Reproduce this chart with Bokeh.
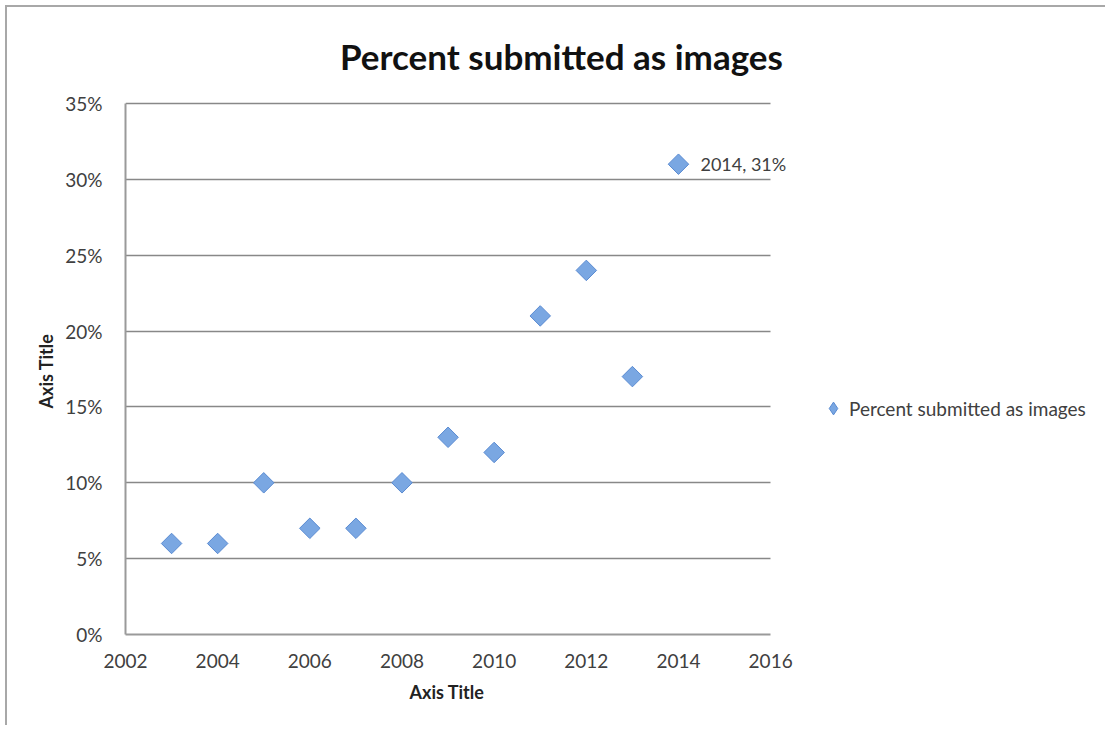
from bokeh.plotting import figure
from bokeh.models import (Label, Legend, LegendItem, SingleIntervalTicker,
                          PrintfTickFormatter, Range1d, ColumnDataSource, Title)
from bokeh.embed import file_html
from bokeh.resources import INLINE
import math

# ---- data ----
years = [2003, 2004, 2005, 2006, 2007, 2008, 2009, 2010, 2011, 2012, 2013, 2014]
percent_images = [6, 6, 10, 7, 7, 10, 13, 12, 21, 24, 17, 31]
series_name = "Percent submitted as images"
chart_title = "Percent submitted as images"
x_axis_title = "Axis Title"
y_axis_title = "Axis Title"
label_year = 2014
label_value = 31
x_axis_span = (2002, 2016)
y_axis_span = (0, 35)

FONT = "Lato"
TXT = "#404040"
FILL = "#7aa7e2"
EDGE = "#5a8bd2"

# frame is stretched over the whole chart area; axes and grid are bounded
p = figure(width=1100, height=720, output_backend="svg", toolbar_location=None,
           x_range=Range1d(2002, 2023.31), y_range=Range1d(0, 41.33),
           min_border_left=118, min_border_right=0,
           min_border_top=0, min_border_bottom=93)
p.styles = {"margin-left": "5px", "margin-top": "5px",
            "border-left": "2px solid #a8a8a8", "border-top": "2px solid #a8a8a8"}
p.outline_line_color = None
p.background_fill_color = "white"
p.border_fill_color = "white"

p.xaxis.bounds = x_axis_span
p.yaxis.bounds = y_axis_span

# grid
p.xgrid.grid_line_color = None
p.ygrid.grid_line_color = "#888888"
p.ygrid.grid_line_width = 1.3
p.ygrid.ticker = SingleIntervalTicker(interval=5)
p.ygrid.bounds = y_axis_span
p.ygrid.cross_bounds = x_axis_span

# axes
p.xaxis.ticker = SingleIntervalTicker(interval=2)
p.yaxis.ticker = SingleIntervalTicker(interval=5)
p.yaxis.formatter = PrintfTickFormatter(format="%d%%")
for ax in (p.xaxis[0], p.yaxis[0]):
    ax.axis_line_color = "#9a9a9a"
    ax.axis_line_width = 2
    ax.major_tick_line_color = None
    ax.minor_tick_line_color = None
    ax.major_label_text_font = FONT
    ax.major_label_text_font_size = "19px"
    ax.major_label_text_color = TXT
p.xaxis.major_label_standoff = 13
p.yaxis.major_label_standoff = 17

# axis titles (placed as titles so they centre on the bounded axes)
p.add_layout(Title(text=y_axis_title, align="left", offset=226, standoff=12,
                   text_font=FONT, text_font_size="18px", text_font_style="bold",
                   text_color="#222222"), "left")
p.add_layout(Title(text=x_axis_title, align="left", offset=284, standoff=17,
                   text_font=FONT, text_font_size="18px", text_font_style="bold",
                   text_color="#222222"), "below")

# legend swatch renderer: a diamond hidden underneath the last point,
# used only so the legend shows a diamond symbol
swatch = p.scatter(x=years[-1:], y=percent_images[-1:], marker="diamond", size=14,
                   fill_color=FILL, line_color=EDGE, line_width=1)

src = ColumnDataSource(dict(x=years, y=percent_images))
r = p.scatter("x", "y", source=src, marker="square", size=14.5, angle=math.pi / 4,
              fill_color=FILL, line_color=EDGE, line_width=1)

# data label
p.add_layout(Label(x=label_year, y=label_value, text=f"{label_year}, {label_value}%",
                   x_offset=22, text_baseline="middle", text_font=FONT,
                   text_font_size="18px", text_color=TXT))

# chart title
p.add_layout(Label(x=2011.46, y=38.16, text=chart_title, text_align="center",
                   text_baseline="middle", text_font=FONT, text_font_size="35px",
                   text_font_style="bold", text_color="#111111"))

legend = Legend(items=[LegendItem(label=series_name, renderers=[swatch])],
                location=(692, 210), orientation="vertical",
                border_line_color=None, background_fill_alpha=0,
                padding=0, margin=0, glyph_width=32, glyph_height=32,
                label_standoff=0, label_text_font=FONT,
                label_text_font_size="19px", label_text_color=TXT)
p.add_layout(legend, "center")

open("out.html", "w").write(file_html(p, INLINE))
